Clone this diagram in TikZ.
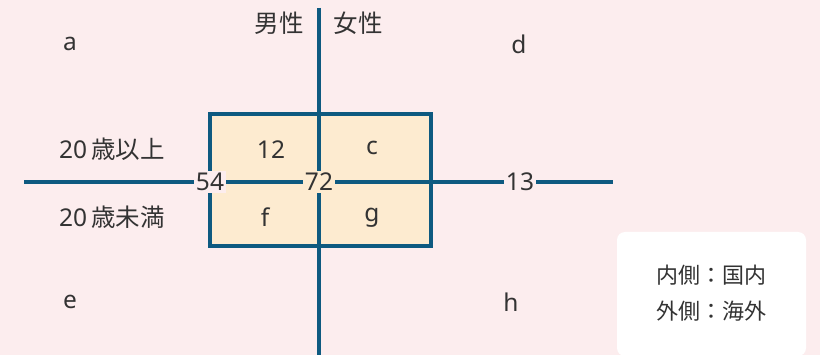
\documentclass[tikz,border=0pt]{standalone}
\usepackage{fontspec}
\setmainfont{Noto Sans}
\newfontfamily\jp{Noto Sans CJK JP}
\definecolor{bgpink}{HTML}{FCEDEE}
\definecolor{lineblue}{HTML}{0E5A80}
\definecolor{peach}{HTML}{FDEBD0}
\definecolor{txt}{HTML}{333333}
\begin{document}
\begin{tikzpicture}[x=1pt,y=-1pt,
  lbl/.style={font=\fontsize{24.5}{28}\selectfont, text=txt, inner sep=1pt},
  axis/.style={draw=lineblue, line width=3.2pt},
  numlbl/.style={lbl, inner sep=2pt}]
\fill[bgpink] (0,0) rectangle (820,355);
\useasboundingbox (0,0) rectangle (820,355);
% box
\node[draw=lineblue, line width=3.2pt, fill=peach, minimum width=221pt, minimum height=132pt, inner sep=0pt] (box) at (320.5,180) {};
% axes
\coordinate (vtop) at (319,8);
\coordinate (vbot) at (319,355);
\coordinate (hl) at (24,182);
\coordinate (hr) at (613,182);
\draw[axis] (vtop) -- (vbot);
\draw[axis] (hl) -- (hr);
% numbers on axis
\node[numlbl, fill=bgpink] (n54) at (210,182) {54};
\node[numlbl, fill=peach] (n72) at (319,182) {72};
\node[numlbl, fill=bgpink] (n13) at (520,182) {13};
% cells
\node[lbl] (n12) at (271,150) {12};
\node[lbl] (nc) at (372,148) {c};
\node[lbl] (nf) at (265,217) {f};
\node[lbl] (ng) at (372,218) {g};
% corners
\node[lbl] (na) at (70,44) {a};
\node[lbl] (nd) at (519,44) {d};
\node[lbl] (ne) at (70,302) {e};
\node[lbl] (nh) at (511,302) {h};
% headers
\node[lbl] (male) at (279,23) {\jp 男性};
\node[lbl] (female) at (358,23) {\jp 女性};
\node[lbl] (over) at (112,149) {20\,{\jp 歳以上}};
\node[lbl] (under) at (112,217) {20\,{\jp 歳未満}};
% legend
\node[fill=white, rounded corners=8pt, minimum width=189pt, minimum height=124pt, inner sep=0pt] (leg) at (711.5,294) {};
\node[lbl, font=\fontsize{22}{26}\selectfont\jp, align=center] (legtxt) at (711.5,293) {内側：国内\\[10pt]外側：海外};
\end{tikzpicture}
\end{document}
